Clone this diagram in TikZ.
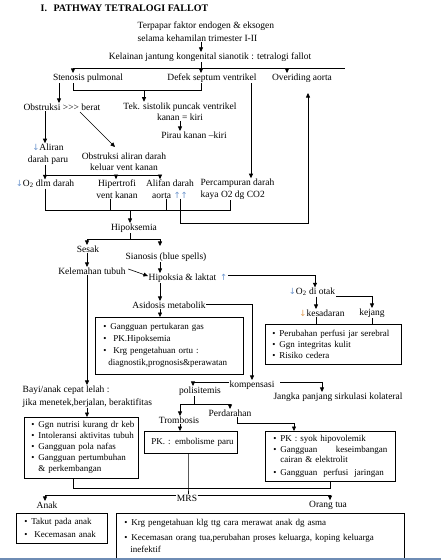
\documentclass[tikz,border=0pt]{standalone}
\usepackage{fontspec}
\setmainfont{Liberation Serif}
\newfontfamily\arrfont{DejaVu Sans}
\usetikzlibrary{arrows.meta}
\definecolor{upblue}{RGB}{110,150,205}
\definecolor{downorange}{RGB}{225,160,90}
\definecolor{pageline}{RGB}{110,140,180}
\newcommand\mainsz{\fontsize{9.5}{11.5}\selectfont}
\newcommand\bul{\makebox[7pt][l]{\textbullet}}
\newcommand\bi[1]{\mbox{\bul #1}}
\newcommand\indt{\hspace*{7pt}}
\newcommand\dnarr{{\color{upblue}\arrfont\fontsize{8.5}{8.5}\selectfont ↓}}
\newcommand\uparr{{\color{upblue}\arrfont\fontsize{8.5}{8.5}\selectfont ↑}}
\newcommand\dnorange{{\color{downorange}\arrfont\fontsize{8.5}{8.5}\selectfont ↓}}
\begin{document}
\begin{tikzpicture}[x=1pt,y=-1pt,
  ln/.style={line width=0.6pt},
  arr/.style={line width=0.6pt,-{Triangle[length=4.5pt,width=4pt]}},
  txt/.style={inner sep=0.5pt,font=\mainsz},
  boxnode/.style={draw,line width=0.6pt,anchor=north west,align=left,inner ysep=0pt}]
\useasboundingbox (0,0) rectangle (441,560);

% title and top
\node[txt,anchor=west] (title) at (40,8) {\fontsize{10}{12}\selectfont\bfseries I.\hspace{6.5pt}PATHWAY TETRALOGI FALLOT};
\node[txt,anchor=west,align=left] (terpapar) at (137,31.5) {Terpapar faktor endogen \& eksogen\\[1.5pt]selama kehamilan trimester I-II};
\node[txt] (kelainan) at (210,57) {Kelainan jantung kongenital sianotik : tetralogi fallot};
\coordinate (c201) at (201,0);
\draw[arr] (terpapar.south -| c201) -- (kelainan.north -| c201);

\coordinate (hL) at (73,68);
\coordinate (hR) at (345,68);
\coordinate (hO) at (287,68);
\draw[ln] (hL) -- (hR);
\node[txt] (stenosis) at (88,78) {Stenosis pulmonal};
\node[txt] (defek) at (212,78) {Defek septum ventrikel};
\node[txt] (overiding) at (302,78) {Overiding aorta};
\draw[arr] (hL) -- (stenosis.north -| hL);
\draw[arr] (kelainan.south -| c201) -- (defek.north -| c201);
\draw[arr] (hO) -- (overiding.north -| hO);

\coordinate (jA) at (73,90);
\coordinate (jB) at (201,90);
\coordinate (jT) at (144,90);
\draw[ln] (stenosis.south -| jA) -- (jA) -- (jB) -- (defek.south -| jB);
\node[txt,align=center] (tek) at (180,111.5) {Tek. sistolik puncak ventrikel\\kanan = kiri};
\draw[arr] (jT) -- (tek.north -| jT);
\node[txt] (pirau) at (194,135) {Pirau kanan --kiri};
\coordinate (c180) at (180,0);
\draw[arr] (tek.south -| c180) -- (pirau.north -| c180);

\node[txt] (obstruksi) at (62,107) {Obstruksi >{}>{}> berat};
\coordinate (c59) at (59,0);
\draw[arr] (stenosis.south -| c59) -- (obstruksi.north -| c59);

\node[txt,anchor=west,align=left] (percamp) at (200,189) {Percampuran darah\\kaya O2 dg CO2};
\coordinate (c251) at (251,0);
\draw[arr] (defek.south -| c251) -- (percamp.north -| c251);

\node[txt,align=center] (aliran) at (48,154) {\dnarr Aliran\\darah paru};
\coordinate (c45) at (45,0);
\draw[arr] (obstruksi.south -| c45) -- (aliran.north -| c45);
\node[txt,align=center] (obsal) at (124,161.5) {Obstruksi aliran darah\\keluar vent kanan};
\coordinate (dg1) at (80,112);
\coordinate (dg2) at (115,147);
\draw[arr] (dg1) -- (dg2);

% row 3
\node[txt] (o2) at (45,184) {\dnarr O\textsubscript{2} dlm darah};
\node[txt,align=center] (hiper) at (117,189) {Hipertrofi\\vent kanan};
\node[txt,align=center] (alifan) at (170,189) {Alifan darah\\aorta \uparr\uparr};
\coordinate (tA) at (45,175);
\coordinate (tB) at (160,175);
\coordinate (tH) at (116,175);
\draw[ln] (aliran.south -| tA) -- (tA) -- (tB);
\draw[arr] (tA) -- (o2.north -| tA);
\draw[arr] (tH) -- (hiper.north -| tH);
\draw[arr] (tB) -- (alifan.north -| tB);

\coordinate (bA) at (45,210);
\coordinate (bH) at (110,210);
\coordinate (bL) at (166,210);
\coordinate (bP) at (230,210);
\coordinate (bM) at (130,210);
\draw[ln] (o2.south -| bA) -- (bA) -- (bP) -- (percamp.south -| bP);
\draw[ln] (hiper.south -| bH) -- (bH);
\draw[ln] (alifan.south -| bL) -- (bL);
\node[txt] (hipoks) at (134,228) {Hipoksemia};
\draw[arr] (bM) -- (hipoks.north -| bM);
\coordinate (lA) at (180,223);
\coordinate (lB) at (308,223);
\coordinate (lT) at (308,93);
\draw[arr] (alifan.south -| lA) -- (lA) -- (lB) -- (lT);

% row 4
\node[txt] (sesak) at (88,249) {Sesak};
\node[txt] (sianosis) at (166,257) {Sianosis (blue spells)};
\coordinate (sA) at (87,239);
\coordinate (sB) at (160,239);
\coordinate (sM) at (130,239);
\draw[ln] (hipoks.south -| sM) -- (sM);
\draw[ln] (sA) -- (sB);
\draw[arr] (sA) -- (sesak.north -| sA);
\draw[arr,shorten >=6pt] (sB) -- (sianosis.north -| sB);
\node[txt] (kelemahan) at (92,271) {Kelemahan tubuh};
\coordinate (c87) at (87,0);
\draw[arr] (sesak.south -| c87) -- (kelemahan.north -| c87);
\node[txt] (hipoksia) at (188,278) {Hipoksia \& laktat\hspace{4pt}\uparr};
\coordinate (c160) at (160,0);
\draw[arr] (sianosis.south -| c160) -- (hipoksia.north -| c160);
\draw[arr] ([xshift=2pt,yshift=2pt]kelemahan.east) -- ([yshift=2pt]hipoksia.west);

\node[txt] (otak) at (312,292) {\dnarr O\textsubscript{2} di otak};
\coordinate (hk) at (315,275);
\draw[arr] ([yshift=3pt]hipoksia.east) -- (hk) -- (otak.north -| hk);
\node[txt] (asidosis) at (169,305) {Asidosis metabolik};
\draw[arr] (hipoksia.south -| c160) -- (asidosis.north -| c160);
\node[txt] (kesadaran) at (322,313) {\dnorange kesadaran};
\node[txt] (kejang) at (372,313) {kejang};
\coordinate (c316) at (316,0);
\draw[arr] (otak.south -| c316) -- (kesadaran.north -| c316);
\draw[arr] ([yshift=-4pt]otak.east) -| (kejang.north);

\node[boxnode,inner xsep=7pt,text width=122pt,minimum height=40pt,
  font=\fontsize{9}{11}\selectfont] (box1) at (265,324)
 {\bi{Perubahan perfusi jar serebral}\\
  \bi{Ggn integritas kulit}\\
  \bi{Risiko cedera}};
\draw[ln] (kesadaran.south -| c316) -- (box1.north -| c316);
\draw[ln] (kejang.south) -- (kejang.south |- box1.north);

\node[boxnode,inner xsep=8pt,text width=132pt,minimum height=57pt,
  font=\fontsize{9}{12}\selectfont] (box2) at (95,317)
 {\bi{Gangguan pertukaran gas}\\
  \bi{\ PK.Hipoksemia}\\
  \bi{\ Krg pengetahuan ortu :}\\
  \mbox{\hspace*{5pt}diagnostik,prognosis\&perawatan}};
\draw[arr] (asidosis.south -| c160) -- (box2.north -| c160);

\node[txt] (kompensasi) at (252,385) {kompensasi};
\draw[arr] ([yshift=1pt]asidosis.east) -| (kompensasi.north);
\node[txt] (polis) at (200,391) {polisitemis};
\node[txt] (jangka) at (338,397) {Jangka panjang sirkulasi kolateral};
\coordinate (c193) at (193,0);
\coordinate (c322) at (322,0);
\draw[arr] ([yshift=3pt]kompensasi.west) -| (polis.north -| c193);
\draw[arr] ([xshift=5pt,yshift=3pt]kompensasi.east) -| (jangka.north -| c322);

\coordinate (pA) at (180,404);
\coordinate (pB) at (230,404);
\coordinate (c194) at (194,0);
\draw[ln] (polis.south -| c194) -- (c194 |- pA);
\draw[ln] (pA) -- (pB);
\node[txt] (tromb) at (179,420) {Trombosis};
\node[txt] (perd) at (230,413) {Perdarahan};
\draw[arr] (pA) -- (tromb.north -| pA);
\draw[arr] (pB) -- (perd.north -| pB);

\node[boxnode,inner xsep=7pt,text width=79pt,minimum height=22pt,
  font=\fontsize{9}{11}\selectfont] (box3) at (144,431)
 {\mbox{PK. : embolisme paru}};
\draw[arr] (tromb.south -| pA) -- (box3.north -| pA);

\node[boxnode,inner xsep=8pt,text width=114pt,minimum height=50pt,
  font=\fontsize{9}{10.5}\selectfont] (box4) at (265,431)
 {\bi{PK : syok hipovolemik}\\[0.5pt]
  \makebox[114pt][s]{\bul Gangguan\hfill keseimbangan}\\
  \indt cairan \& elektrolit\\[2.5pt]
  \bi{Gangguan\ \ perfusi\ \ jaringan}};
\coordinate (rA) at (237,423);
\coordinate (rB) at (294,423);
\draw[arr] (perd.south -| rA) -- (rA) -- (rB) -- (box4.north -| rB);

% left column
\node[txt,anchor=west,align=left] (bayi) at (22,396.5) {Bayi/anak cepat lelah :\\[1.5pt]jika menetek,berjalan, beraktifitas};
\draw[arr] (kelemahan.south -| c87) -- (bayi.north -| c87);
\node[boxnode,inner xsep=7pt,text width=100pt,minimum height=61pt,
  font=\fontsize{9}{11}\selectfont] (box5) at (24,417)
 {\bi{Ggn nutrisi kurang dr keb}\\
  \bi{Intoleransi aktivitas tubuh}\\
  \bi{Gangguan pola nafas}\\
  \bi{Gangguan pertumbuhan}\\
  \indt\& perkembangan};
\draw[arr] (bayi.south -| c87) -- (box5.north -| c87);

% bottom
\node[txt] (mrs) at (187,498) {MRS};
\coordinate (mA) at (73,488);
\coordinate (mB) at (330,488);
\coordinate (mC) at (188,488);
\draw[ln] (box5.south -| mA) -- (mA) -- (mB) -- (box4.south -| mB);
\draw[ln] (box3.south -| mC) -- (mC) -- (mrs.north -| mC);
\node[txt] (anak) at (47,505) {Anak};
\node[txt] (orang) at (328,505) {Orang tua};
\coordinate (c330) at (330,0);
\draw[arr] ([yshift=3pt]mrs.west) -| (anak.north -| c45);
\draw[arr] ([yshift=3pt]mrs.east) -| (orang.north -| c330);

\node[boxnode,inner xsep=8pt,text width=75pt,minimum height=30pt,
  font=\fontsize{9}{13}\selectfont] (box6) at (16,513)
 {\bi{Takut pada anak}\\
  \bi{\ Kecemasan anak}};
\node[boxnode,inner xsep=8pt,text width=272pt,minimum height=45pt,
  font=\fontsize{9}{12}\selectfont] (box7) at (116,513)
 {\bi{Krg pengetahuan klg ttg cara merawat anak dg asma}\\[3pt]
  \bi{Kecemasan orang tua,perubahan proses keluarga, koping keluarga}\\
  \hspace*{6pt}inefektif};

\draw[pageline,line width=2pt] (0,559) -- (441,559);
\end{tikzpicture}
\end{document}
